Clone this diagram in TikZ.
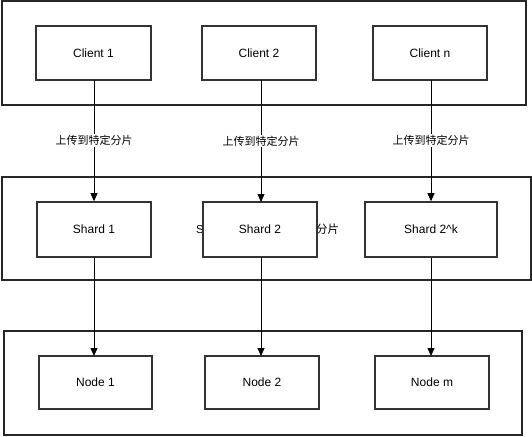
\documentclass[tikz,border=0pt]{standalone}
\usepackage{fontspec}
\setmainfont{Liberation Sans}
\newfontfamily\cjk{Noto Sans CJK SC}
\usetikzlibrary{arrows.meta}
\begin{document}
\begin{tikzpicture}[x=1pt,y=-1pt,
  container/.style={draw=black!85,line width=1.6pt},
  box/.style={draw=black!80,line width=1.6pt,fill=white,font=\fontsize{12}{14}\selectfont},
  conn/.style={draw=black,line width=0.8pt,-{Triangle[length=8pt,width=7pt]}},
  lbl/.style={fill=white,inner sep=1pt,font=\cjk\fontsize{11}{13}\selectfont}]
\useasboundingbox (0,0) rectangle (532,436);
% containers
\draw[container] (2,1) rectangle (526,105);
\draw[container] (2,177) rectangle (531,280);
\draw[container] (4,331) rectangle (522,435);
% hidden label behind Shard 2
\node[inner sep=0pt,anchor=west,font=\fontsize{11.5}{13}\selectfont] (hid) at (196,229) {\makebox[143pt][l]{Shard 2\hfill{\cjk 上传到特定分片}}};
% clients
\node[box,minimum width=115pt,minimum height=54pt] (c1) at (93.5,53) {Client 1};
\node[box,minimum width=114pt,minimum height=54pt] (c2) at (259,53) {Client 2};
\node[box,minimum width=114pt,minimum height=54pt] (cn) at (430,53) {Client n};
% shards
\node[box,minimum width=114pt,minimum height=55pt] (s1) at (94,229.5) {Shard 1};
\node[box,minimum width=114pt,minimum height=55pt] (s2) at (260,229.5) {Shard 2};
\node[box,minimum width=132pt,minimum height=55pt] (sk) at (431,229.5) {Shard 2\^{}k};
% nodes
\node[box,minimum width=113pt,minimum height=53pt] (n1) at (95.5,382.5) {Node 1};
\node[box,minimum width=114pt,minimum height=53pt] (n2) at (262,382.5) {Node 2};
\node[box,minimum width=114pt,minimum height=53pt] (nm) at (432,382.5) {Node m};
% connectors
\draw[conn] (94,80) coordinate (a1) -- node[lbl] {上传到特定分片} (s1.north);
\draw[conn] (261,80) coordinate (a2) -- node[lbl] {上传到特定分片} (261,202);
\draw[conn] (431,80) coordinate (a3) -- node[lbl] {上传到特定分片} (sk.north);
\draw[conn] (s1.south) -- (94,356);
\draw[conn] (261,257) -- (261,356);
\draw[conn] (sk.south) -- (431,356);
\end{tikzpicture}
\end{document}
